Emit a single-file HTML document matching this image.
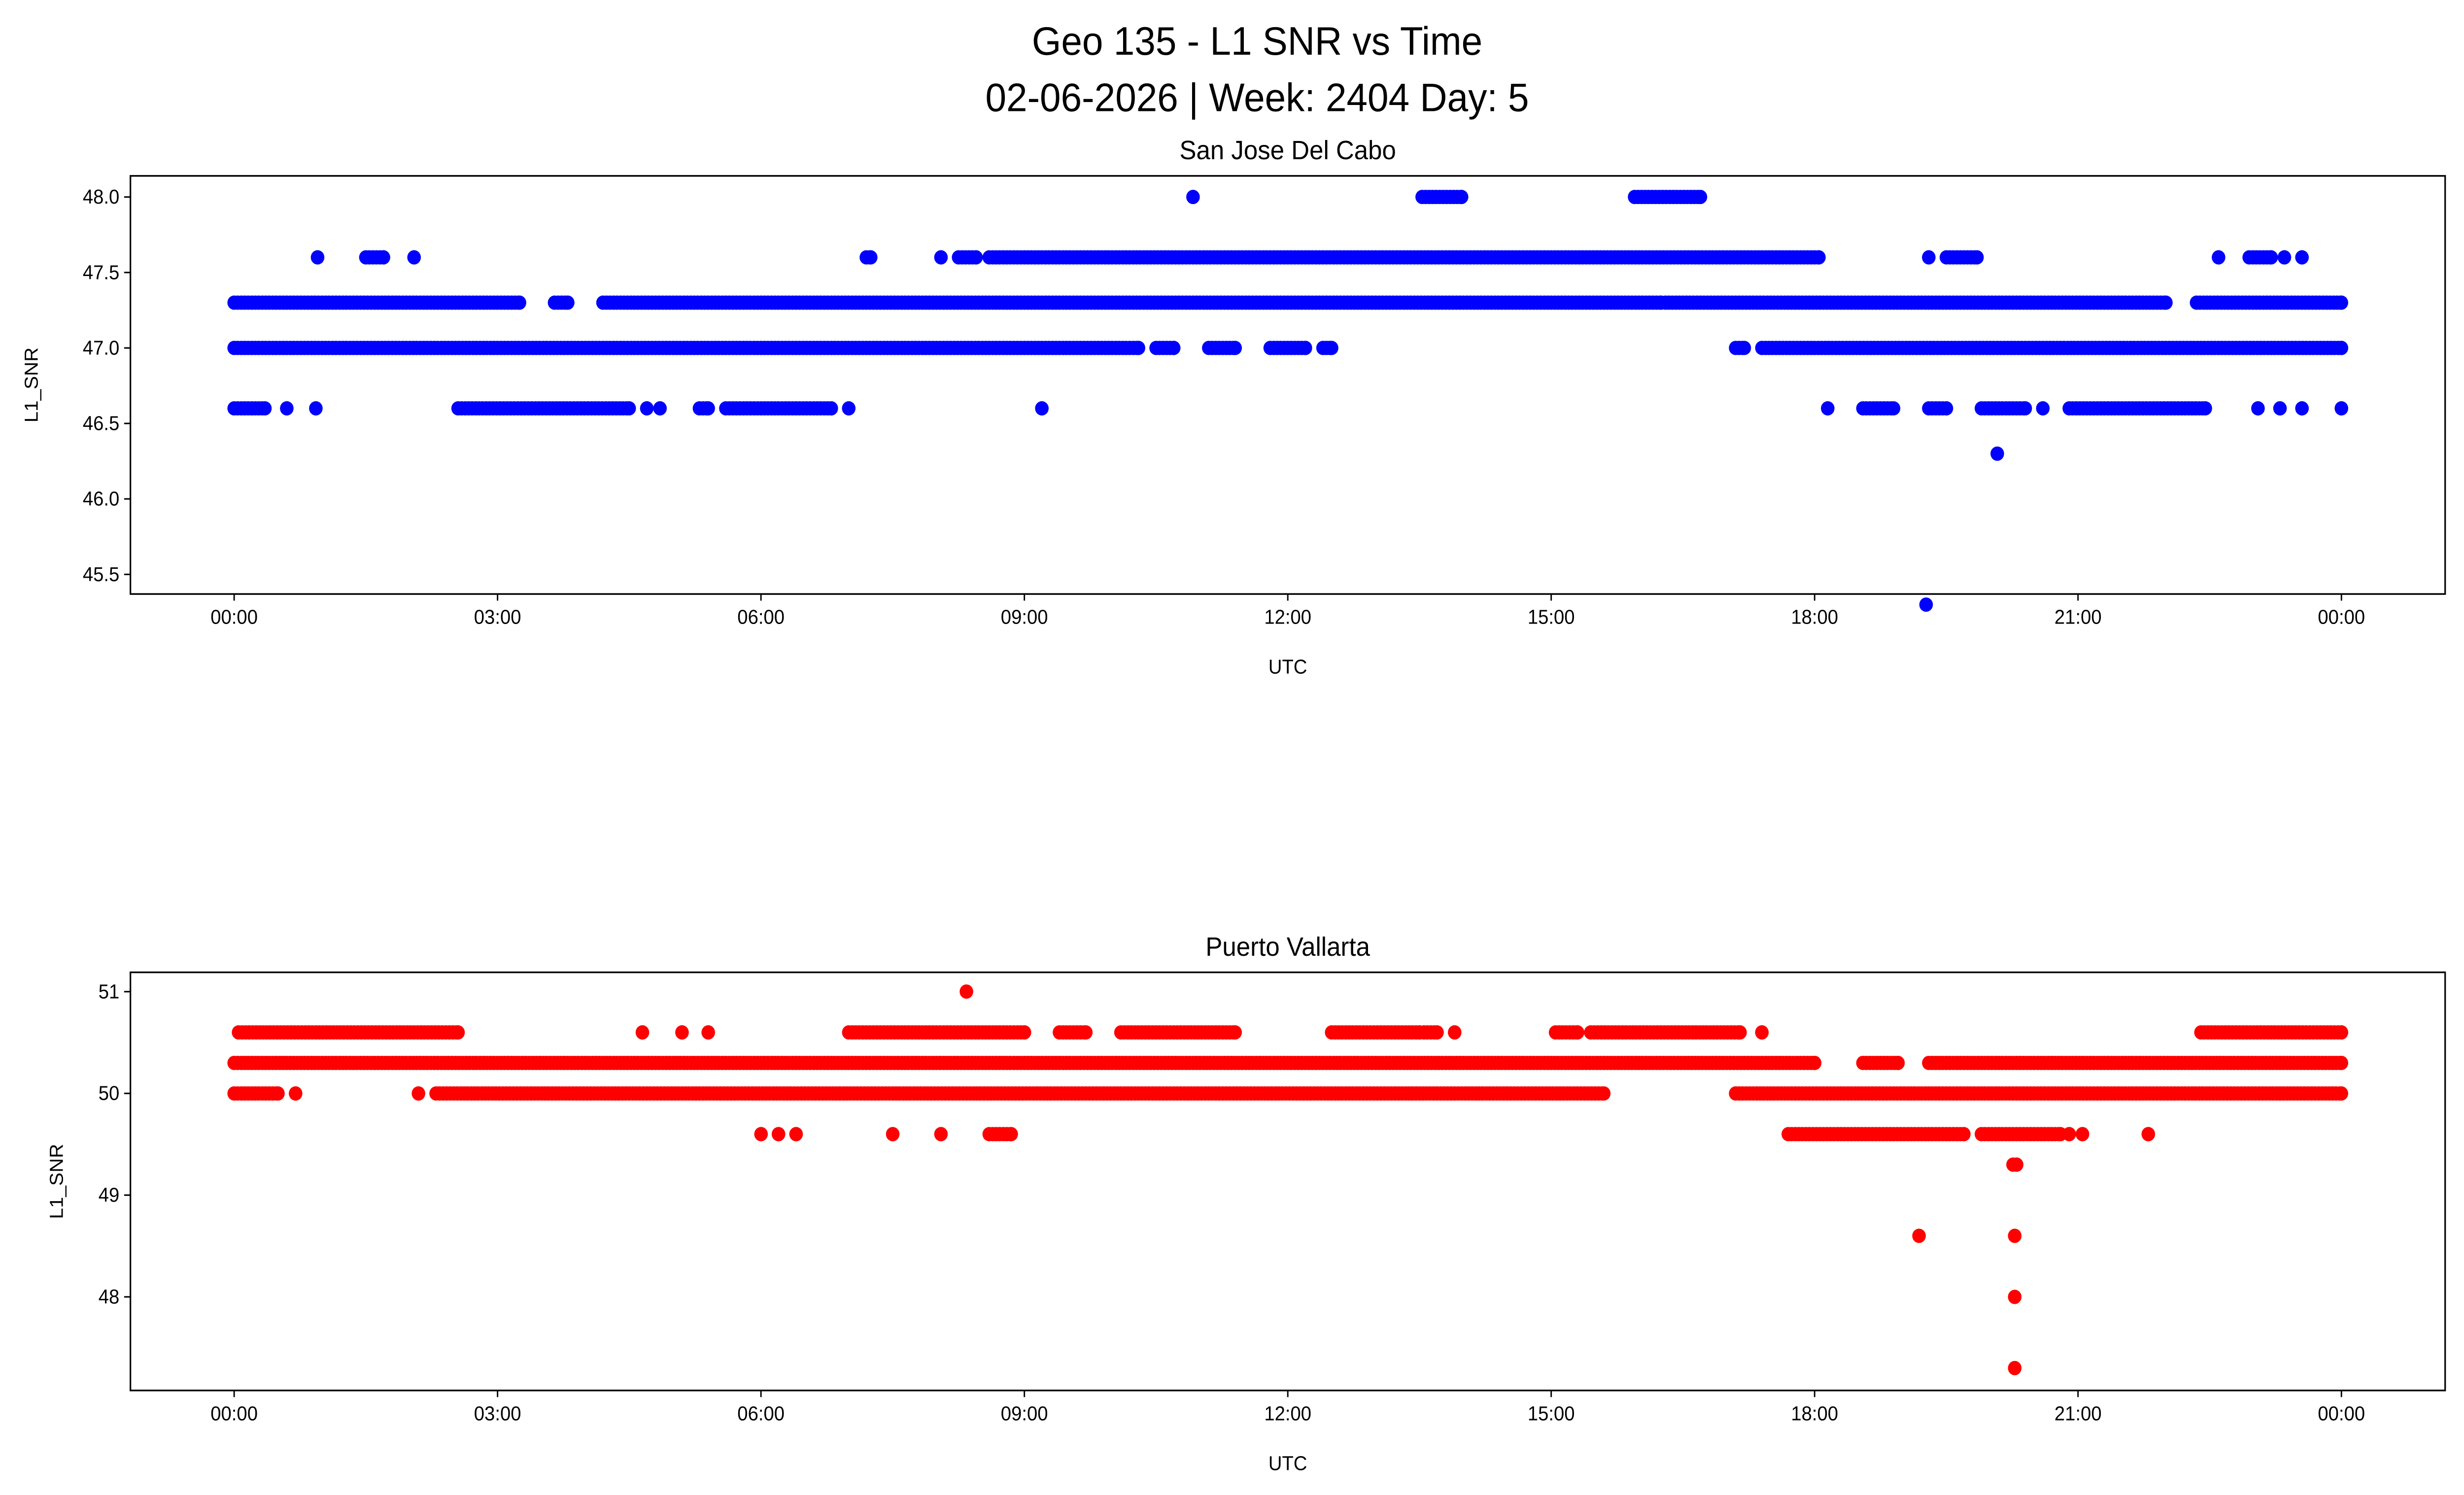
<!DOCTYPE html>
<html><head><meta charset="utf-8"><style>
html,body{margin:0;padding:0;background:#fff;overflow:hidden;width:100%;height:100%}
svg{display:block;font-family:"Liberation Sans",sans-serif;width:100vw;height:100vh}
</style></head><body>
<svg id="fig" viewBox="0 0 1568 901" preserveAspectRatio="none" xmlns="http://www.w3.org/2000/svg">
<rect width="1568" height="901" fill="#fff"/>
<text x="800" y="33" font-size="24" text-anchor="middle">Geo 135 - L1 SNR vs Time</text>
<text x="800" y="67" font-size="24" text-anchor="middle">02-06-2026 | Week: 2404 Day: 5</text>
<g id="p1"></g>
<g id="p2"></g>
</svg>
<script>
const xTicks=[0,3,6,9,12,15,18,21,24];
const xTickLabels=["00:00","03:00","06:00","09:00","12:00","15:00","18:00","21:00","00:00"];
const sjTicks=[45.5,46.0,46.5,47.0,47.5,48.0];
const sjTickLabels=["45.5","46.0","46.5","47.0","47.5","48.0"];
const sjLevels=[48.0,47.6,47.3,47.0,46.6,46.3,45.3];
const sjRuns=[
 [[10.92,10.92],[13.53,13.98],[15.95,16.7]],
 [[0.95,0.95],[1.5,1.7],[2.05,2.05],[7.2,7.25],[8.05,8.05],[8.25,8.45],[8.6,18.05],[19.3,19.3],[19.5,19.85],[22.6,22.6],[22.95,23.2],[23.35,23.35],[23.55,23.55]],
 [[0,3.25],[3.65,3.8],[4.2,16.25],[16.3,22.0],[22.35,24]],
 [[0,10.3],[10.5,10.7],[11.1,11.4],[11.8,12.2],[12.4,12.5],[17.1,17.2],[17.4,24]],
 [[0,0.35],[0.6,0.6],[0.93,0.93],[2.55,4.5],[4.7,4.7],[4.85,4.85],[5.3,5.4],[5.6,6.8],[7.0,7.0],[9.2,9.2],[18.15,18.15],[18.55,18.9],[19.3,19.5],[19.9,20.4],[20.6,20.6],[20.9,22.45],[23.05,23.05],[23.3,23.3],[23.55,23.55],[24,24]],
 [[20.08,20.08]],
 [[19.27,19.27]]
];
const pvTicks=[48,49,50,51];
const pvTickLabels=["48","49","50","51"];
const pvLevels=[51.0,50.6,50.3,50.0,49.6,49.3,48.6,48.0,47.3];
const pvRuns=[
 [[8.34,8.34]],
 [[0.05,2.55],[4.65,4.65],[5.1,5.1],[5.4,5.4],[7.0,9.0],[9.4,9.7],[10.1,11.4],[12.5,13.5],[13.55,13.7],[13.9,13.9],[15.05,15.3],[15.45,17.15],[17.4,17.4],[22.4,24]],
 [[0,18.0],[18.55,18.95],[19.3,24]],
 [[0,0.5],[0.7,0.7],[2.1,2.1],[2.3,15.6],[17.1,24]],
 [[6.0,6.0],[6.2,6.2],[6.4,6.4],[7.5,7.5],[8.05,8.05],[8.6,8.85],[17.7,19.7],[19.9,20.8],[20.9,20.9],[21.05,21.05],[21.8,21.8]],
 [[20.26,20.3]],
 [[19.19,19.19],[20.28,20.28]],
 [[20.28,20.28]],
 [[20.28,20.28]]
];
const NS="http://www.w3.org/2000/svg";
function mk(tag,attrs,parent){const e=document.createElementNS(NS,tag);for(const k in attrs)e.setAttribute(k,attrs[k]);parent.appendChild(e);return e;}
function panel(g,top,bottom,ymin,ymax,yT,yTL,levels,runs,color,title,ylabX){
 const L=83,R=1556;
 const x=h=>149+h/24*1341;
 const y=v=>bottom-(v-ymin)/(ymax-ymin)*(bottom-top);
 const t=mk('text',{x:(L+R)/2,y:top-10,'font-size':16,'text-anchor':'middle'},g);t.textContent=title;
 
 
 const pts=mk('g',{fill:color},g);
 
 
 levels.forEach((lv,i)=>{runs[i].forEach(r=>{
   for(let h=r[0];h<=r[1]+1e-9;h+=0.04){
     const c=mk('circle',{cx:x(h).toFixed(1),cy:y(lv).toFixed(1),r:4.3},pts);
     
     
   }
   const c=mk('circle',{cx:x(r[1]).toFixed(1),cy:y(lv).toFixed(1),r:4.3},pts);
   
   
 });});
 const fr=mk('rect',{x:L,y:top,width:R-L,height:bottom-top,fill:'none',stroke:'#000','stroke-width':1},g);
 
 
 xTicks.forEach((h,i)=>{
  mk('line',{x1:x(h),x2:x(h),y1:bottom,y2:bottom+4,stroke:'#000','stroke-width':0.9},g);
  const tl=mk('text',{x:x(h),y:bottom+18,'font-size':12,'text-anchor':'middle'},g);tl.textContent=xTickLabels[i];
  
  
 });
 yT.forEach((v,i)=>{
  mk('line',{x1:L-4,x2:L,y1:y(v),y2:y(v),stroke:'#000','stroke-width':0.9},g);
  const tl=mk('text',{x:L-7,y:y(v)+4,'font-size':12,'text-anchor':'end'},g);tl.textContent=yTL[i];
  
  
 });
 const xl=mk('text',{x:(L+R)/2,y:bottom+48,'font-size':12,'text-anchor':'middle'},g);xl.textContent='UTC';
 
 
 const cy=(top+bottom)/2;
 const yl=mk('text',{x:ylabX,y:cy,'font-size':12,'text-anchor':'middle',transform:`rotate(-90 ${ylabX} ${cy})`},g);yl.textContent='L1_SNR';
 
 
}
panel(document.getElementById('p1'),106,358,45.37,48.14,sjTicks,sjTickLabels,sjLevels,sjRuns,'#0000ff','San Jose Del Cabo',24);
panel(document.getElementById('p2'),586,838,47.08,51.19,pvTicks,pvTickLabels,pvLevels,pvRuns,'#ff0000','Puerto Vallarta',40);
</script>
</body></html>
